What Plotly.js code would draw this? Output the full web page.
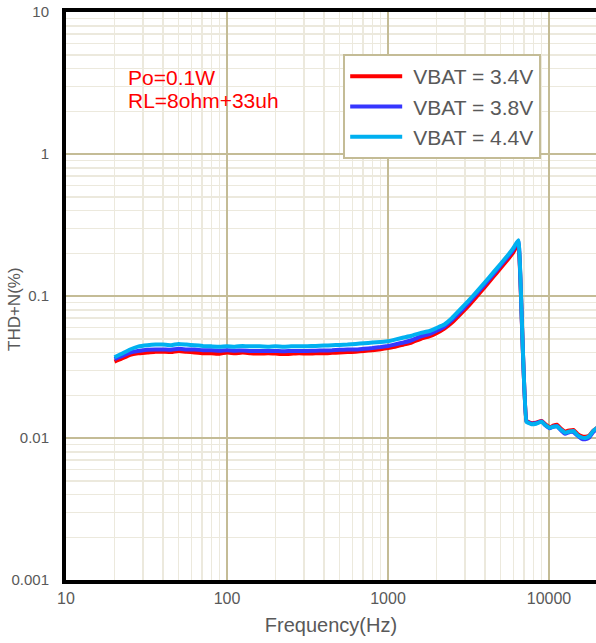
<!DOCTYPE html>
<html>
<head>
<meta charset="utf-8">
<script src="https://cdn.plot.ly/plotly-3.0.1.min.js"></script>
<style>html,body{margin:0;padding:0;background:#fff}#chart{width:596px;height:643px}</style>
</head>
<body>
<div id="chart"></div>
<script>
const freq = [20,22,25,28,32,36,40,45,50,56,63,71,80,90,100,112,125,140,160,180,200,224,250,280,315,355,400,450,500,560,630,710,800,900,1000,1120,1250,1400,1600,1800,2000,2240,2500,2800,3150,3550,4000,4500,5000,5600,6000,6450,7250,7800,8300,9000,9500,10100,10600,11200,11900,12600,13400,14200,15000,15900,16800,17800,18800,20000];

const vbat34 = [0.0345,0.036,0.0385,0.0395,0.040,0.0405,0.0405,0.0403,0.041,0.0405,0.040,0.0395,0.0395,0.0392,0.040,0.0395,0.040,0.0395,0.0393,0.0395,0.0393,0.039,0.0392,0.0395,0.0393,0.0395,0.0395,0.0398,0.040,0.0403,0.0405,0.041,0.0415,0.0422,0.043,0.044,0.0455,0.047,0.050,0.052,0.0548,0.059,0.065,0.074,0.085,0.099,0.116,0.136,0.157,0.183,0.203,0.232,0.0132,0.0127,0.0128,0.0132,0.0125,0.0119,0.0122,0.0124,0.0116,0.0111,0.0113,0.0114,0.0107,0.0103,0.0102,0.0104,0.0112,0.0118];

const vbat38 = [0.036,0.0375,0.040,0.041,0.0418,0.042,0.042,0.0418,0.0425,0.042,0.042,0.0415,0.0415,0.0412,0.0415,0.0412,0.0413,0.041,0.041,0.041,0.041,0.0408,0.041,0.041,0.041,0.0412,0.0413,0.0415,0.0418,0.042,0.042,0.0425,0.043,0.0437,0.0445,0.0457,0.047,0.0488,0.052,0.054,0.057,0.061,0.068,0.077,0.089,0.104,0.121,0.142,0.164,0.191,0.212,0.244,0.0131,0.0126,0.0127,0.0131,0.0123,0.0117,0.0120,0.0121,0.0113,0.0107,0.0110,0.0110,0.0104,0.0099,0.0098,0.0101,0.0110,0.0117];

const vbat44 = [0.037,0.039,0.042,0.044,0.045,0.0455,0.0455,0.045,0.046,0.0455,0.045,0.0445,0.0442,0.044,0.0443,0.044,0.0445,0.0442,0.0442,0.044,0.0443,0.044,0.0442,0.0443,0.0443,0.0445,0.0448,0.045,0.0452,0.0455,0.046,0.0465,0.047,0.0475,0.048,0.0495,0.051,0.0525,0.055,0.0565,0.0595,0.063,0.070,0.080,0.092,0.107,0.125,0.146,0.168,0.196,0.217,0.247,0.0130,0.0125,0.0126,0.0130,0.0123,0.0118,0.0120,0.0121,0.0114,0.0109,0.0111,0.0112,0.0105,0.0101,0.0100,0.0103,0.0112,0.0119];

const seriesNames = ['VBAT = 3.4V','VBAT = 3.8V','VBAT = 4.4V'];
const seriesColors = ['#ff0000','#3636ff','#00b0f0'];
const seriesData = [vbat34, vbat38, vbat44];

const xTickVals = [10,100,1000,10000];
const xTickText = ['10','100','1000','10000'];
const yTickVals = [0.001,0.01,0.1,1,10];
const yTickText = ['0.001','0.01','0.1','1','10'];

const traces = seriesData.map((d,i)=>({
  x: freq, y: d, type:'scatter', mode:'lines', name: seriesNames[i],
  line:{color: seriesColors[i], width:4, shape:'spline', smoothing:0.3}
}));

const grey = '#595959';
const layout = {
  width:596, height:643,
  margin:{l:66, r:0, t:12, b:63},
  paper_bgcolor:'#fff', plot_bgcolor:'#fff',
  font:{family:'Liberation Sans, Arial, sans-serif', color:grey},
  showlegend:true,
  legend:{x:0.523, y:0.926, xanchor:'left', yanchor:'top',
    bgcolor:'#fff', bordercolor:'#c4bc96', borderwidth:2,
    font:{size:21, color:grey}, itemwidth:58},
  xaxis:{type:'log', range:[1, 4.292],
    tickvals:xTickVals, ticktext:xTickText,
    tickfont:{size:16, color:grey},
    ticks:'outside', ticklen:1, tickcolor:'rgba(0,0,0,0)',
    showline:true, linecolor:'#000', linewidth:4, mirror:true,
    showgrid:true, gridcolor:'#c4bc96', gridwidth:2,
    minor:{dtick:'D1', showgrid:true, gridcolor:'#ece9dd', gridwidth:1.5, ticks:''},
    zeroline:false,
    title:{text:'Frequency(Hz)', font:{size:20, color:grey}, standoff:13}},
  yaxis:{type:'log', range:[-3, 1],
    tickvals:yTickVals, ticktext:yTickText,
    tickfont:{size:15, color:grey},
    ticks:'outside', ticklen:10, tickcolor:'rgba(0,0,0,0)',
    showline:true, linecolor:'#000', linewidth:4,
    showgrid:true, gridcolor:'#c4bc96', gridwidth:2,
    minor:{dtick:'D1', showgrid:true, gridcolor:'#ece9dd', gridwidth:1.5, ticks:''},
    zeroline:false},
  annotations:[
    {xref:'paper', yref:'paper', x:(126-66)/530, y:(580-77)/568, xanchor:'left', yanchor:'middle',
     text:'Po=0.1W', showarrow:false, font:{size:21, color:'#ff0000'}},
    {xref:'paper', yref:'paper', x:(126-66)/530, y:(580-101)/568, xanchor:'left', yanchor:'middle',
     text:'RL=8ohm+33uh', showarrow:false, font:{size:21, color:'#ff0000'}},
    {xref:'paper', yref:'paper', x:-(66-14)/530, y:(580-309)/568, xanchor:'center', yanchor:'middle',
     text:'THD+N(%)', textangle:-90, showarrow:false, font:{size:17, color:grey}}
  ]
};

Plotly.newPlot('chart', traces, layout, {displayModeBar:false, staticPlot:true}).then(()=>{
  document.querySelectorAll('.legend .legendlines path').forEach(p=>{
    p.setAttribute('d','M5,0h52');
  });
});
</script>
</body>
</html>
